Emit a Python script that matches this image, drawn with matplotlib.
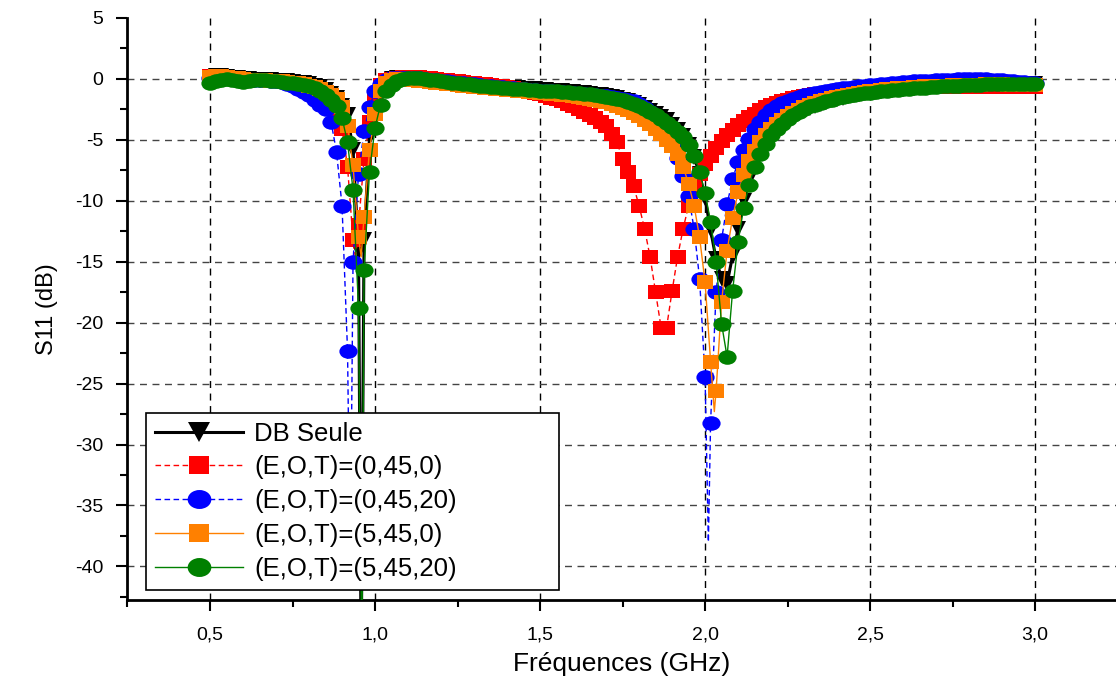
import numpy as np
import matplotlib
matplotlib.use("Agg")
from matplotlib import pyplot as plt
from matplotlib.lines import Line2D
from matplotlib.markers import MarkerStyle
from matplotlib.transforms import Affine2D
from matplotlib.ticker import MultipleLocator, FuncFormatter

plt.rcParams['font.family'] = ['Liberation Sans', 'DejaVu Sans']

# frequency sweep (GHz), one marker every 1/60 GHz
freq = np.linspace(0.5, 3.0, 151)

labels = ['DB Seule', '(E,O,T)=(0,45,0)', '(E,O,T)=(0,45,20)',
          '(E,O,T)=(5,45,0)', '(E,O,T)=(5,45,20)']

s11_db = [
    0.15, 0.20, 0.20, 0.15, 0.10, 0.05, 0.00, 0.00, -0.05, -0.05,
    -0.10, -0.10, -0.15, -0.15, -0.20, -0.25, -0.30, -0.35, -0.45, -0.55,
    -0.70, -0.90, -1.20, -1.60, -2.20, -3.00, -5.80, -14.1, -13.2, -4.80,
    -1.80, -0.60, -0.15, 0.00, 0.05, 0.10, 0.10, 0.10, 0.05, 0.00,
    -0.05, -0.10, -0.15, -0.20, -0.25, -0.30, -0.35, -0.40, -0.45, -0.50,
    -0.55, -0.59, -0.63, -0.67, -0.71, -0.74, -0.77, -0.80, -0.83, -0.86,
    -0.89, -0.92, -0.95, -0.98, -1.01, -1.04, -1.08, -1.12, -1.17, -1.22,
    -1.28, -1.34, -1.41, -1.50, -1.60, -1.70, -1.84, -1.98, -2.15, -2.35,
    -2.60, -2.85, -3.10, -3.40, -3.80, -4.20, -4.70, -5.40, -6.40, -7.80,
    -9.80, -12.4, -14.8, -16.4, -16.8, -14.5, -12.3, -10.0, -8.30, -7.00,
    -6.00, -5.20, -4.60, -4.10, -3.70, -3.35, -3.05, -2.80, -2.57, -2.37,
    -2.19, -2.03, -1.89, -1.76, -1.64, -1.53, -1.43, -1.34, -1.26, -1.18,
    -1.11, -1.05, -0.99, -0.93, -0.88, -0.83, -0.79, -0.75, -0.71, -0.67,
    -0.64, -0.61, -0.58, -0.55, -0.52, -0.50, -0.48, -0.46, -0.44, -0.42,
    -0.41, -0.40, -0.39, -0.38, -0.38, -0.38, -0.38, -0.39, -0.40, -0.41, -0.42,
]
s11_0_45_0 = [
    0.20, 0.25, 0.20, 0.15, 0.10, 0.05, 0.00, -0.05, -0.05, -0.10,
    -0.10, -0.15, -0.15, -0.20, -0.25, -0.30, -0.40, -0.50, -0.65, -0.85,
    -1.10, -1.50, -2.00, -2.70, -4.10, -7.20, -13.2, -12.0, -6.60, -3.50,
    -1.50, -0.50, -0.10, 0.00, 0.10, 0.15, 0.15, 0.15, 0.12, 0.10,
    0.05, 0.00, -0.05, -0.10, -0.15, -0.20, -0.25, -0.30, -0.35, -0.40,
    -0.45, -0.50, -0.56, -0.62, -0.69, -0.76, -0.84, -0.93, -1.03, -1.14,
    -1.26, -1.39, -1.53, -1.68, -1.85, -2.03, -2.23, -2.45, -2.69, -2.95,
    -3.23, -3.55, -3.90, -4.50, -5.20, -6.60, -7.60, -8.80, -10.4, -12.3,
    -14.6, -17.5, -20.4, -20.4, -17.4, -14.6, -12.3, -10.4, -8.80, -7.80,
    -7.00, -6.30, -5.70, -5.10, -4.60, -4.20, -3.80, -3.45, -3.15, -2.90,
    -2.55, -2.30, -2.10, -1.95, -1.82, -1.70, -1.60, -1.50, -1.42, -1.34,
    -1.27, -1.20, -1.14, -1.08, -1.03, -0.98, -0.94, -0.90, -0.86, -0.83,
    -0.80, -0.77, -0.75, -0.73, -0.71, -0.70, -0.69, -0.68, -0.67, -0.66,
    -0.66, -0.65, -0.65, -0.65, -0.65, -0.65, -0.65, -0.65, -0.65, -0.65,
    -0.65, -0.65, -0.65, -0.65, -0.65, -0.65, -0.65, -0.65, -0.65, -0.65, -0.65,
]
s11_0_45_20 = [
    0.10, 0.15, 0.20, 0.15, 0.10, 0.05, 0.00, -0.05, -0.05, -0.10,
    -0.10, -0.15, -0.20, -0.28, -0.38, -0.55, -0.80, -1.05, -1.35, -1.70,
    -2.10, -2.50, -3.50, -6.00, -10.4, -22.3, -15.0, -7.80, -4.30, -2.30,
    -1.00, -0.40, -0.10, 0.05, 0.10, 0.10, 0.10, 0.08, 0.05, 0.00,
    -0.05, -0.10, -0.15, -0.20, -0.25, -0.30, -0.35, -0.40, -0.45, -0.50,
    -0.55, -0.59, -0.63, -0.67, -0.71, -0.75, -0.79, -0.83, -0.87, -0.91,
    -0.95, -0.99, -1.03, -1.07, -1.11, -1.15, -1.19, -1.23, -1.27, -1.31,
    -1.35, -1.39, -1.43, -1.48, -1.54, -1.62, -1.72, -1.85, -2.05, -2.35,
    -2.70, -3.10, -3.70, -4.40, -5.30, -6.50, -8.00, -9.60, -12.3, -16.4,
    -24.5, -28.2, -17.5, -13.2, -10.3, -8.20, -6.80, -5.80, -4.90, -4.10,
    -3.50, -2.95, -2.55, -2.25, -2.00, -1.80, -1.62, -1.47, -1.35, -1.24,
    -1.14, -1.05, -0.97, -0.90, -0.83, -0.77, -0.71, -0.65, -0.60, -0.55,
    -0.50, -0.46, -0.42, -0.38, -0.34, -0.30, -0.27, -0.24, -0.21, -0.18,
    -0.15, -0.13, -0.11, -0.09, -0.07, -0.05, -0.04, -0.03, -0.02, -0.02,
    -0.02, -0.03, -0.05, -0.08, -0.11, -0.15, -0.19, -0.23, -0.27, -0.31, -0.35,
]
s11_5_45_0 = [
    0.15, 0.20, 0.20, 0.15, 0.10, 0.05, 0.00, -0.05, -0.05, -0.10,
    -0.10, -0.15, -0.15, -0.20, -0.25, -0.30, -0.35, -0.45, -0.55, -0.70,
    -0.85, -1.05, -1.30, -1.65, -2.30, -3.90, -7.10, -13.0, -11.3, -5.80,
    -2.90, -1.00, -0.30, -0.10, 0.00, 0.00, -0.05, -0.10, -0.15, -0.20,
    -0.25, -0.30, -0.35, -0.40, -0.45, -0.50, -0.55, -0.60, -0.65, -0.69,
    -0.73, -0.77, -0.81, -0.85, -0.89, -0.93, -0.97, -1.01, -1.05, -1.09,
    -1.13, -1.17, -1.21, -1.25, -1.29, -1.34, -1.40, -1.46, -1.53, -1.61,
    -1.70, -1.80, -1.92, -2.05, -2.20, -2.37, -2.57, -2.80, -3.05, -3.35,
    -3.70, -4.10, -4.50, -5.00, -5.50, -6.20, -7.20, -8.60, -10.4, -13.0,
    -16.7, -23.2, -25.6, -18.3, -14.1, -11.4, -9.30, -7.90, -6.70, -5.90,
    -5.20, -4.60, -4.10, -3.70, -3.35, -3.05, -2.78, -2.55, -2.34, -2.15,
    -1.99, -1.84, -1.71, -1.59, -1.48, -1.38, -1.29, -1.21, -1.14, -1.07,
    -1.01, -0.96, -0.91, -0.86, -0.82, -0.78, -0.74, -0.71, -0.68, -0.65,
    -0.62, -0.60, -0.58, -0.56, -0.54, -0.52, -0.50, -0.49, -0.48, -0.47,
    -0.46, -0.45, -0.45, -0.45, -0.45, -0.46, -0.47, -0.48, -0.49, -0.50, -0.52,
]
s11_5_45_20 = [
    -0.30, -0.15, -0.05, 0.00, -0.05, -0.15, -0.25, -0.20, -0.10, -0.05,
    -0.10, -0.15, -0.20, -0.25, -0.30, -0.35, -0.40, -0.48, -0.58, -0.78,
    -1.00, -1.30, -1.70, -2.20, -3.20, -5.20, -9.10, -18.8, -15.7, -7.60,
    -4.00, -2.10, -1.00, -0.50, -0.20, 0.00, 0.05, 0.05, 0.05, 0.00,
    -0.05, -0.10, -0.18, -0.25, -0.30, -0.35, -0.40, -0.45, -0.50, -0.55,
    -0.60, -0.64, -0.68, -0.72, -0.76, -0.79, -0.82, -0.86, -0.89, -0.92,
    -0.95, -0.97, -0.99, -1.02, -1.05, -1.08, -1.12, -1.16, -1.21, -1.26,
    -1.32, -1.38, -1.45, -1.55, -1.65, -1.75, -1.90, -2.05, -2.25, -2.45,
    -2.70, -3.00, -3.30, -3.60, -3.95, -4.35, -4.80, -5.40, -6.30, -7.60,
    -9.40, -11.7, -15.0, -20.1, -22.8, -17.4, -13.4, -10.6, -8.70, -7.20,
    -6.20, -5.30, -4.60, -4.10, -3.70, -3.30, -3.00, -2.70, -2.45, -2.25,
    -2.10, -1.95, -1.82, -1.70, -1.60, -1.50, -1.41, -1.33, -1.26, -1.19,
    -1.12, -1.07, -1.02, -0.97, -0.92, -0.88, -0.84, -0.80, -0.77, -0.74,
    -0.71, -0.68, -0.65, -0.62, -0.60, -0.57, -0.55, -0.53, -0.50, -0.48,
    -0.47, -0.45, -0.44, -0.43, -0.42, -0.42, -0.41, -0.42, -0.43, -0.44, -0.45,
]

# extra sweep points at the resonance minima (drawn in the line, no marker)
dip_f_db = [0.958]
dip_s_db = [-48.0]
dip_f_0_45_0 = [0.941, 1.875]
dip_s_0_45_0 = [-14.8, -20.8]
dip_f_0_45_20 = [0.925, 2.010]
dip_s_0_45_20 = [-40.0, -38.0]
dip_f_5_45_0 = [0.958, 2.028]
dip_s_5_45_0 = [-14.6, -27.3]
dip_f_5_45_20 = [0.960]
dip_s_5_45_20 = [-48.0]


def oval(m, sx=1.25):
    return MarkerStyle(m, transform=Affine2D().scale(sx, 1.0))


series = [
    (s11_db, dip_f_db, dip_s_db, 'black', '-', 2.2, oval('v', 1.1), 11),
    (s11_0_45_0, dip_f_0_45_0, dip_s_0_45_0, '#ff0000', (0, (4, 2.5)), 1.0, oval('s', 1.15), 9.5),
    (s11_0_45_20, dip_f_0_45_20, dip_s_0_45_20, '#0000ff', (0, (4, 2.5)), 1.0, oval('o'), 10.5),
    (s11_5_45_0, dip_f_5_45_0, dip_s_5_45_0, '#ff8000', '-', 1.0, oval('s', 1.15), 9.5),
    (s11_5_45_20, dip_f_5_45_20, dip_s_5_45_20, '#008000', '-', 1.0, oval('o'), 10.5),
]

fig = plt.figure(figsize=(11.16, 6.82), dpi=100)
ax = fig.add_axes([127 / 1116, 1 - 600 / 682, 1 - 127 / 1116, 582 / 682])

handles = []
for i, (s, df, ds, col, ls, lw, mk, ms) in enumerate(series):
    xs = np.concatenate([freq, df])
    ys = np.concatenate([s, ds])
    is_marker = np.concatenate([np.ones(len(freq), bool), np.zeros(len(df), bool)])
    order = np.argsort(xs, kind='stable')
    ax.plot(xs[order], ys[order], color=col, ls=ls, lw=lw, marker=mk, ms=ms,
            mfc=col, mec=col, mew=0, markevery=list(np.where(is_marker[order])[0]),
            zorder=3 + i, clip_on=True)
    handles.append(Line2D([], [], color=col, ls=ls, lw=lw, marker=mk, ms=ms * 1.3,
                          mfc=col, mec=col, mew=0))

ax.set_xlim(0.2485, 3.245)
ax.set_ylim(-42.76, 5)

ax.spines['top'].set_visible(False)
ax.spines['right'].set_visible(False)
ax.spines['left'].set_linewidth(2)
ax.spines['bottom'].set_linewidth(2)

ax.xaxis.set_major_locator(MultipleLocator(0.5))
ax.xaxis.set_minor_locator(MultipleLocator(0.25))
ax.yaxis.set_major_locator(MultipleLocator(5))
ax.yaxis.set_minor_locator(MultipleLocator(2.5))
ax.xaxis.set_major_formatter(FuncFormatter(lambda v, p: ('%.1f' % v).replace('.', ',')))
ax.yaxis.set_major_formatter(FuncFormatter(lambda v, p: '%d' % round(v)))
ax.tick_params(which='major', direction='out', length=8, width=1.5, labelsize=14, pad=9)
ax.tick_params(which='minor', direction='out', length=5, width=1.5)
ax.tick_params(axis='x', which='major', pad=11)

# dashed grid
for xv in np.arange(0.5, 3.01, 0.5):
    ax.axvline(xv, color='black', ls=(0, (5, 4)), lw=1.0, zorder=1)
for yv in np.arange(0, -41, -5):
    ax.axhline(yv, color='#444444', ls=(0, (5, 4)), lw=1.0, zorder=1)

ax.set_xlabel('Fréquences (GHz)', fontsize=19, labelpad=6)
ax.set_ylabel('S11 (dB)', fontsize=17, labelpad=12)

# legend box stretched to the width it has in the original
leg = ax.legend(handles, labels, loc='upper left', mode='expand',
                bbox_to_anchor=(0.0195, 0.322, 0.4175, 0.0),
                fontsize=18.5, frameon=True, fancybox=False, edgecolor='black',
                framealpha=1, handlelength=3.4, handletextpad=0.45,
                labelspacing=0.38, borderpad=0.35, borderaxespad=0)
leg.get_frame().set_linewidth(1.2)
leg.set_zorder(20)

fig.savefig('out.png', dpi=100)
